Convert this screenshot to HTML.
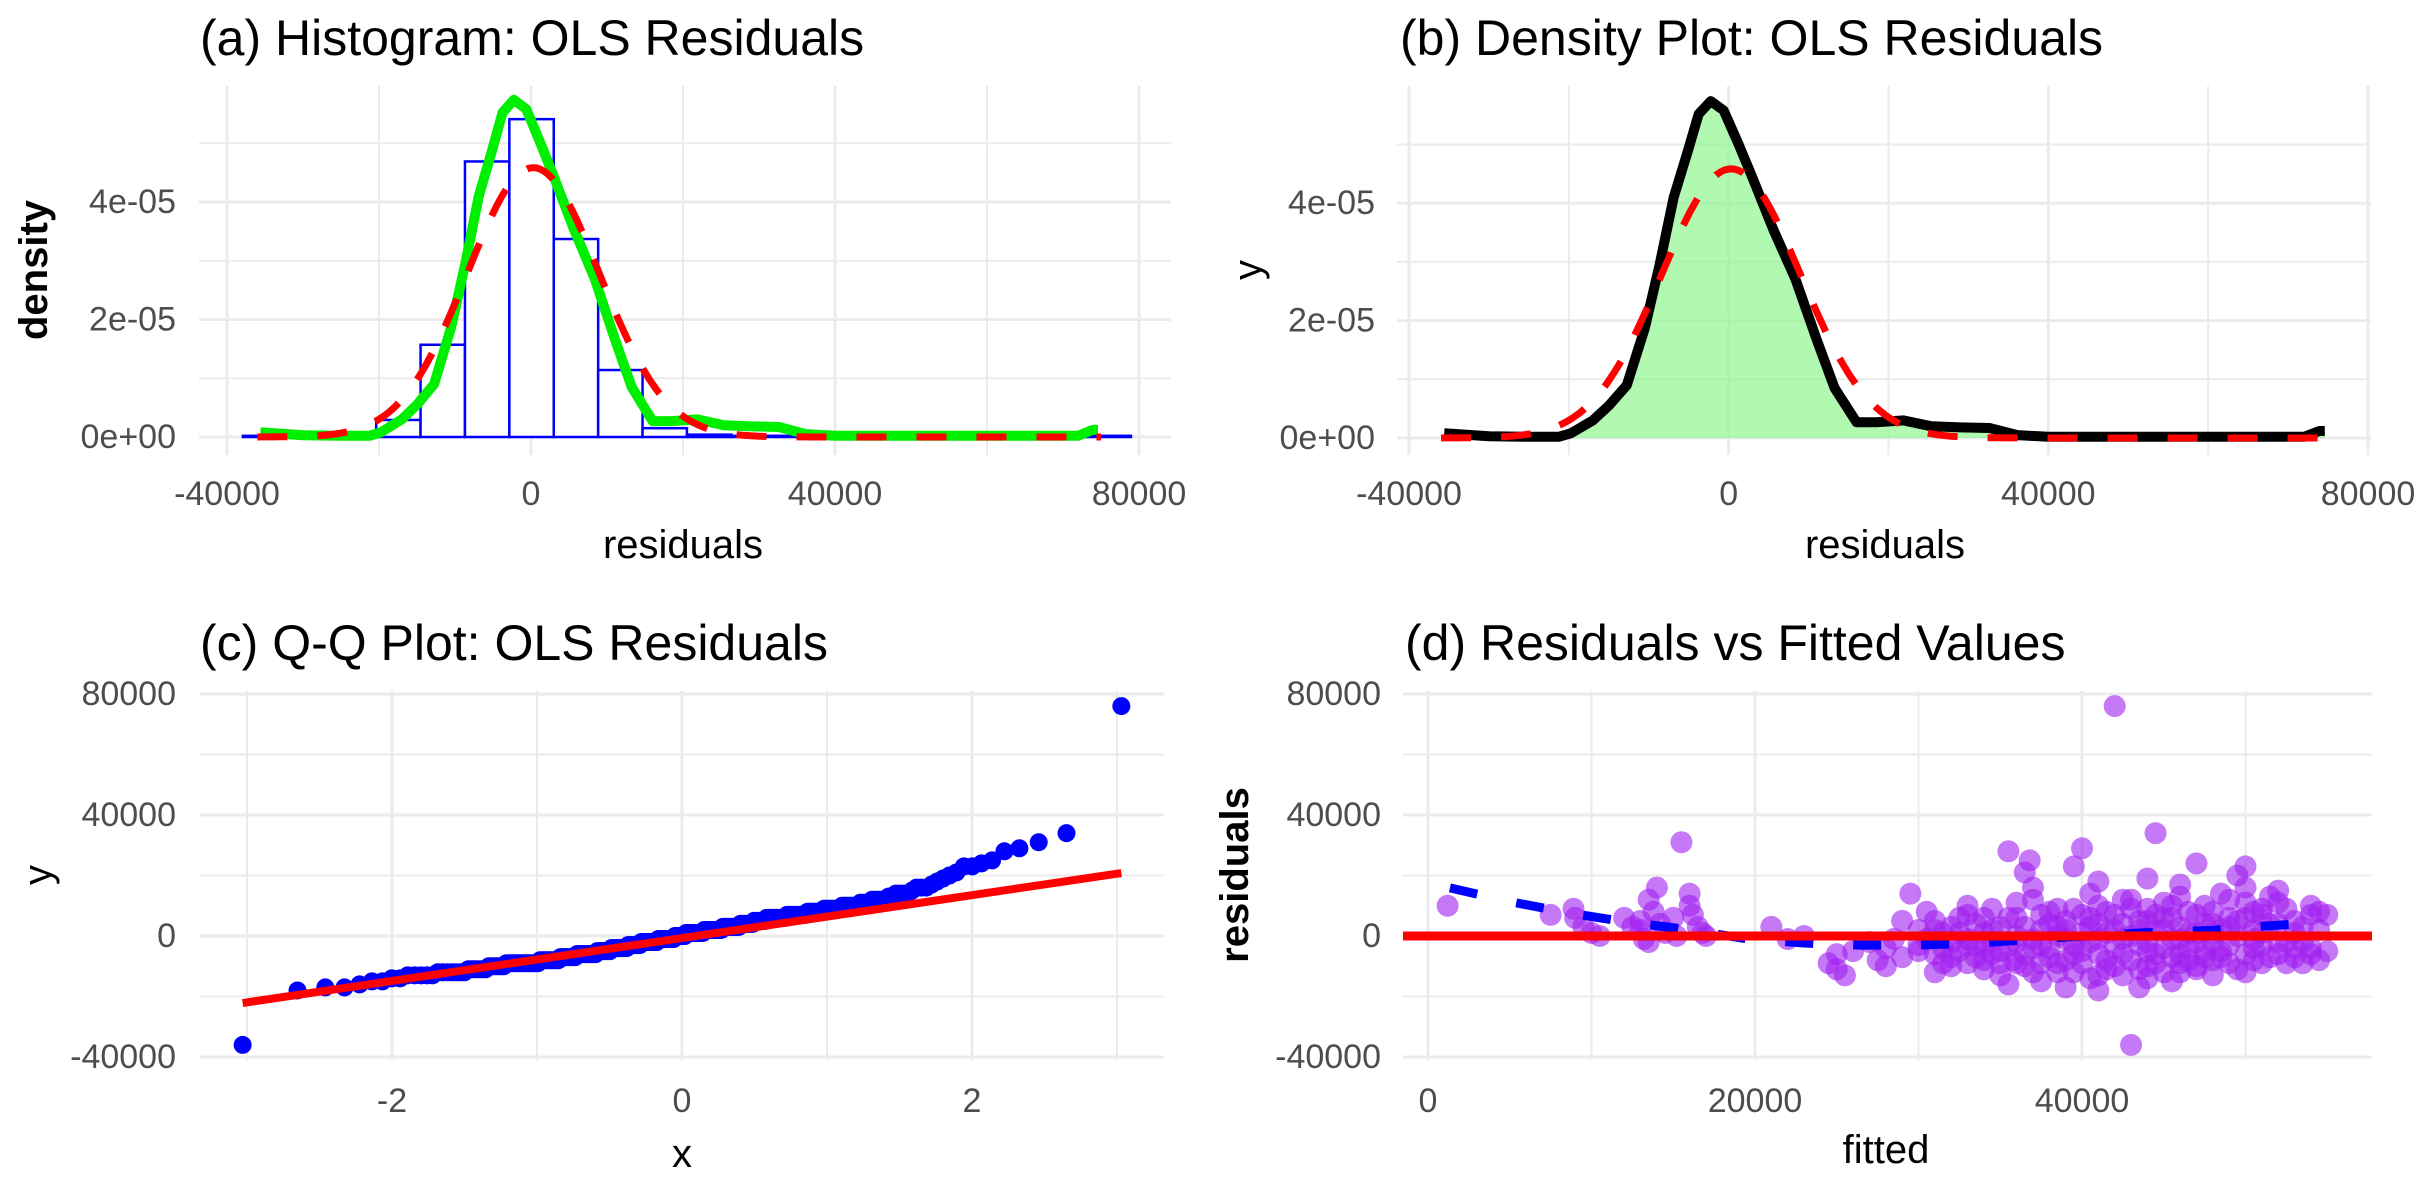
<!DOCTYPE html>
<html><head><meta charset="utf-8">
<style>
html,body{margin:0;padding:0;background:#fff;}
svg{display:block;font-family:"Liberation Sans",Arial,sans-serif;}
.tick{font-size:34px;fill:#4d4d4d;}
.ttl{font-size:50px;fill:#000;}
.axt{font-size:40px;fill:#000;}
</style></head>
<body>
<svg id="chart" width="2425" height="1181" viewBox="0 0 2425 1181" xmlns="http://www.w3.org/2000/svg">
<rect width="2425" height="1181" fill="#fff"/>
<g id="pa"></g>
<g id="pb"></g>
<g id="pc"></g>
<g id="pd"></g>
</svg>
<script>
// ---- data ----
const histBinStart = -37900;
const histBinWidth = 5842;
const histDensity = [0.02,0,0.02,0.29,1.57,4.69,5.41,3.37,1.14,0.15,0.04,0.02,0.02,0,0,0,0,0,0,0.02]; // x1e-5
const kdeX = [-35600,-30000,-25000,-21250,-19750,-17000,-15000,-12750,-10500,-8625,-6875,-5125,-3750,-2250,-625,1250,3000,5625,8375,11000,13250,16000,18500,21875,25375,29000,32625,36125,40000,45000,55000,65000,72000,73900,74600];
const kdeY = [0.08,0.03,0.02,0.02,0.08,0.3,0.55,0.9,1.87,2.96,4.1,4.88,5.52,5.74,5.58,5.0,4.43,3.54,2.7,1.68,0.85,0.27,0.27,0.3,0.2,0.18,0.17,0.05,0.02,0.02,0.02,0.02,0.02,0.12,0.12]; // x1e-5
const normMean = 300;
const normSd = 8700;
const normRange = [-36000, 75000];
const densTicks = [0,2,4];
const densTickLabels = ["0e+00","2e-05","4e-05"];
const resTicks = [-40000,0,40000,80000];
const resTickLabels = ["-40000","0","40000","80000"];
const qqTicks = [-2,0,2];
const qqTickLabels = ["-2","0","2"];
const qqLineIntercept = -675;
const qqLineSlope = 7090;
const fittedTicks = [0,20000,40000];
const fittedTickLabels = ["0","20000","40000"];
// fitted (thousands), residuals (thousands)
const fittedK = [1.2,7.5,8.9,9,9.5,10,10.5,12,12.5,13,13,13.2,13.5,13.8,14,14.2,14.5,15,15.2,15.5,16,16,16.2,16.5,16.8,17,13.5,
21,22,23,24.5,25,25.5,25,26,27,27.5,28,28,28.5,29,29.5,29,30,30.5,31,31,31.5,32,32,32.5,33,33,33.5,34,34,34.5,34.5,35,35,35.5,35.5,35.8,36,36,36.5,36.8,36.5,37,37,37.5,37.5,38,38,38.5,38.5,39,39,39.5,39.5,40,40,40.5,40.5,40.5,41,41,41,41.5,41.5,42,42,42,42.5,42.5,43,43,43,43.5,43.5,44,44,44,44.5,44.5,44.5,45,45,45.5,45.5,45.5,46,46,46,46.5,46.5,47,47,47,47.5,47.5,48,48,48,48.5,48.5,49,49,49.5,49.5,50,50,50,50.5,50.5,51,51,51.5,52,52,52.5,53,53,53.5,54,54,54.5,
37.5,38.5,39.5,40,41,42.5,43.5,44,45,46,47,48,49,50.5,51,52,39,36,34,33,31.5,30,
30.5,31,31.5,32,32.5,33,33.5,34,34.5,35,35.5,36,36.5,37,37.5,38,38.5,39,39.5,40,40.5,41,41.5,42,42.5,43,43.5,44,44.5,45,45.5,46,46.5,47,47.5,48,48.5,49,49.5,50,50.5,51,51.5,52,52.5,53,53.5,54,54.5,55,
31,32,33,34,35,36,37,38,39,40,41,42,43,44,45,46,47,48,49,50,51,52,53,54,55,
30,32.5,34.5,36.5,38.5,40.5,42.5,44.5,46.5,48.5,50.5,52.5,54.5,33.5,35.5,37.5,39.5,41.5,43.5,45.5,47.5,49.5,51.5,53.5,
37,41,46,50,44];
const residK = [10,7,9,6,3,1,0,6,3,5,2,-1,-2,8,16,4,1,6,0,31,14,10,7,3,1,0,12,
3,-1,0,-9,-11,-13,-6,-5,-2,-8,-10,-4,-1,5,14,-7,-3,8,-6,-12,-9,3,-2,-5,-9,7,-3,1,-11,9,-6,3,-13,-16,28,-8,6,-2,21,25,-10,-4,12,2,-15,-7,8,-12,0,-17,5,23,-3,29,-9,14,-14,3,-6,-18,10,1,-11,76,7,-4,-13,12,0,-8,-36,-17,5,-2,9,-10,34,2,-6,-12,11,-1,6,-15,-9,3,13,-4,8,-11,1,24,-7,10,4,-2,-13,14,-5,6,-9,0,20,-6,11,23,2,-8,7,-3,13,-6,4,9,-7,1,-9,7,-4,8,
-3,3,-6,1,-1,-1,2,-5,2,-1,-2,1,-3,-1,1,-2,-1,0,-4,-1,1,-5,
-1,2,-4,-7,1,-3,4,-8,2,-5,6,-9,3,-1,7,-4,-9,2,9,-5,-2,4,-8,2,-6,9,-3,5,-9,-4,10,-6,1,-10,4,8,-7,3,-11,6,-4,9,-7,11,-2,5,3,-6,-8,7,
5,-10,10,6,-9,11,-12,4,-8,7,-13,-10,12,-14,6,-12,7,-8,12,-12,-9,15,-4,10,-5,
2,6,-2,-6,9,6,4,7,-8,2,8,-9,2,-7,-3,-9,-12,8,-11,-7,-5,5,4,-2,
16,18,17,16,19];
const loessFitted = [1341,5150,8960,12070,15600,19450,23000,26300,29900,33700,37300,44700,48000,49900,53500];
const loessResid = [15900,11200,7300,4700,2300,-900,-2300,-3000,-3000,-2300,-900,1350,1850,2850,4100];

// ---- helpers ----
const NS = "http://www.w3.org/2000/svg";
function mk(parent, tag, attrs, text){
  const e = document.createElementNS(NS, tag);
  for (const k in attrs) e.setAttribute(k, attrs[k]);
  if (text !== undefined) e.textContent = text;
  parent.appendChild(e);
  return e;
}
function linear(d0,d1,r0,r1){ return v => r0 + (v-d0)/(d1-d0)*(r1-r0); }
const GRID = "#ebebeb";

function grid(g, left, right, top, bottom, xs, ys){
  xs.forEach(v=>{ const l=mk(g,"line",{x1:v.p,x2:v.p,y1:top,y2:bottom,stroke:GRID,"stroke-width":v.minor?2:3});
    
     });
  ys.forEach(v=>{ const l=mk(g,"line",{x1:left,x2:right,y1:v.p,y2:v.p,stroke:GRID,"stroke-width":v.minor?2:3});
    
     });
}
function title(g, x, y, txt){
  const t = mk(g,"text",{x:x,y:y,class:"ttl"},txt);
  
  
}
function xTicks(g, vals, labels, sx, y){
  vals.forEach((v,i)=>{ const t=mk(g,"text",{x:sx(v),y:y,class:"tick","text-anchor":"middle","dominant-baseline":"central"},labels[i]);
    
     });
}
function yTicks(g, vals, labels, sy, xr){
  vals.forEach((v,i)=>{ const t=mk(g,"text",{x:xr,y:sy(v),class:"tick","text-anchor":"end","dominant-baseline":"central"},labels[i]);
    
     });
}
function xTitle(g, x, y, txt){
  const t=mk(g,"text",{x:x,y:y,class:"axt","text-anchor":"middle","dominant-baseline":"central"},txt);
  
  
}
function yTitle(g, x, y, txt, bold){
  const t=mk(g,"text",{x:x,y:y,class:"axt","text-anchor":"middle","dominant-baseline":"central",transform:`rotate(-90 ${x} ${y})`,"font-weight":bold?"bold":"normal"},txt);
  
  
}
function normPdf(x){ return 1e5/(normSd*Math.sqrt(2*Math.PI))*Math.exp(-0.5*Math.pow((x-normMean)/normSd,2)); }
function normPts(sx, sy){
  const pts=[]; const n=200;
  for(let i=0;i<=n;i++){ const x=normRange[0]+(normRange[1]-normRange[0])*i/n; pts.push(sx(x).toFixed(1)+","+sy(normPdf(x)).toFixed(1)); }
  return pts.join(" ");
}
function kdePts(sx, sy){ return kdeX.map((x,i)=>sx(x).toFixed(1)+","+sy(kdeY[i]).toFixed(1)).join(" "); }

// ---- panel a ----
(function(){
  const g = document.getElementById("pa");
  const sx = linear(0,40000,531,835);
  const sy = linear(0,1,437,378.25);
  const xs=[-40000,-20000,0,20000,40000,60000,80000].map((v,i)=>({p:sx(v),minor:i%2===1}));
  const ys=[0,1,2,3,4,5].map(v=>({p:sy(v),minor:v%2===1}));
  grid(g,199,1171,86,455,xs,ys);
  histDensity.forEach((d,i)=>{
    const x0=sx(histBinStart+i*histBinWidth), x1=sx(histBinStart+(i+1)*histBinWidth);
    const r=mk(g,"rect",{x:x0,y:sy(d),width:x1-x0,height:Math.max(sy(0)-sy(d),0.01),fill:"#fff",stroke:"#0000ff","stroke-width":2.5});
    
    
  });
  const k=mk(g,"polyline",{points:kdePts(sx,sy),fill:"none",stroke:"#00ee00","stroke-width":10,"stroke-linejoin":"round"});
  
  
  const n=mk(g,"polyline",{points:normPts(sx,sy),fill:"none",stroke:"#ff0000","stroke-width":7,"stroke-dasharray":"30 30"});
  
  
  title(g,200,55,"(a) Histogram: OLS Residuals");
  xTicks(g,resTicks,resTickLabels,sx,494);
  yTicks(g,densTicks,densTickLabels,sy,176);
  xTitle(g,683,545,"residuals");
  yTitle(g,34,270,"density",true);
})();

// ---- panel b ----
(function(){
  const g = document.getElementById("pb");
  const sx = linear(-40000,80000,1409,2368);
  const sy = linear(0,1,438,379.3);
  const xs=[-40000,-20000,0,20000,40000,60000,80000].map((v,i)=>({p:sx(v),minor:i%2===1}));
  const ys=[0,1,2,3,4,5].map(v=>({p:sy(v),minor:v%2===1}));
  grid(g,1397,2371,86,455,xs,ys);
  const area = "M"+sx(kdeX[0])+","+sy(0)+" L"+kdePts(sx,sy).split(" ").join(" L")+" L"+sx(kdeX[kdeX.length-1])+","+sy(0)+" Z";
  const a=mk(g,"path",{d:area,fill:"#90f590","fill-opacity":0.7,stroke:"none"});
  
  
  const k=mk(g,"polyline",{points:kdePts(sx,sy),fill:"none",stroke:"#000","stroke-width":10,"stroke-linejoin":"round"});
  
  
  const n=mk(g,"polyline",{points:normPts(sx,sy),fill:"none",stroke:"#ff0000","stroke-width":7,"stroke-dasharray":"30 30"});
  
  
  title(g,1400,55,"(b) Density Plot: OLS Residuals");
  xTicks(g,resTicks,resTickLabels,sx,494);
  yTicks(g,densTicks,densTickLabels,sy,1375);
  xTitle(g,1885,545,"residuals");
  yTitle(g,1248,270,"y",false);
})();

// ---- panel c ----
(function(){
  const g = document.getElementById("pc");
  const sx = linear(0,1,682,827);
  const sy = linear(0,40000,936,815);
  const xs=[-3,-2,-1,0,1,2,3].map(v=>({p:sx(v),minor:v%2!==0}));
  const ys=[-40000,-20000,0,20000,40000,60000,80000].map((v,i)=>({p:sy(v),minor:i%2===1}));
  grid(g,200,1164,691,1060,xs,ys);
  const sorted = residK.map(v=>v*1000).sort((a,b)=>a-b);
  const n = sorted.length;
  function qnorm(p){ // Acklam approximation
    const a=[-39.6968302866538,220.946098424521,-275.928510446969,138.357751867269,-30.6647980661472,2.50662827745924];
    const b=[-54.4760987982241,161.585836858041,-155.698979859887,66.8013118877197,-13.2806815528857];
    const c=[-0.00778489400243029,-0.322396458041136,-2.40075827716184,-2.54973253934373,4.37466414146497,2.93816398269878];
    const d=[0.00778469570904146,0.32246712907004,2.445134137143,3.75440866190742];
    let q,r;
    if(p<0.02425){q=Math.sqrt(-2*Math.log(p));return (((((c[0]*q+c[1])*q+c[2])*q+c[3])*q+c[4])*q+c[5])/((((d[0]*q+d[1])*q+d[2])*q+d[3])*q+1);}
    if(p>1-0.02425){q=Math.sqrt(-2*Math.log(1-p));return -(((((c[0]*q+c[1])*q+c[2])*q+c[3])*q+c[4])*q+c[5])/((((d[0]*q+d[1])*q+d[2])*q+d[3])*q+1);}
    q=p-0.5;r=q*q;return (((((a[0]*r+a[1])*r+a[2])*r+a[3])*r+a[4])*r+a[5])*q/(((((b[0]*r+b[1])*r+b[2])*r+b[3])*r+b[4])*r+1);
  }
  sorted.forEach((v,i)=>{
    const t = qnorm((i+1-0.5)/n)*3.03/qnorm((n-0.5)/n);
    const c=mk(g,"circle",{cx:sx(t),cy:sy(v),r:9,fill:"#0000ff"});
    
    
  });
  const l=mk(g,"line",{x1:sx(-3.03),y1:sy(qqLineIntercept+qqLineSlope*-3.03),x2:sx(3.03),y2:sy(qqLineIntercept+qqLineSlope*3.03),stroke:"#ff0000","stroke-width":8});
  
  
  title(g,200,660,"(c) Q-Q Plot: OLS Residuals");
  xTicks(g,qqTicks,qqTickLabels,sx,1101);
  yTicks(g,resTicks,resTickLabels,sy,176);
  xTitle(g,682,1154,"x");
  yTitle(g,38,875,"y",false);
})();

// ---- panel d ----
(function(){
  const g = document.getElementById("pd");
  const sx = linear(0,20000,1428,1755);
  const sy = linear(0,40000,936,815);
  const xs=[0,10000,20000,30000,40000,50000].map((v,i)=>({p:sx(v),minor:i%2===1}));
  const ys=[-40000,-20000,0,20000,40000,60000,80000].map((v,i)=>({p:sy(v),minor:i%2===1}));
  grid(g,1403,2372,691,1060,xs,ys);
  fittedK.forEach((f,i)=>{
    const c=mk(g,"circle",{cx:sx(f*1000),cy:sy(residK[i]*1000),r:11,fill:"#a020f0","fill-opacity":0.6});
    
    
  });
  const lp = loessFitted.map((f,i)=>sx(f).toFixed(1)+","+sy(loessResid[i]).toFixed(1)).join(" ");
  const lo=mk(g,"polyline",{points:lp,fill:"none",stroke:"#0000ff","stroke-width":9,"stroke-dasharray":"28 40"});
  
  
  const h=mk(g,"line",{x1:1403,x2:2372,y1:sy(0),y2:sy(0),stroke:"#ff0000","stroke-width":9});
  
  
  title(g,1405,660,"(d) Residuals vs Fitted Values");
  xTicks(g,fittedTicks,fittedTickLabels,sx,1101);
  yTicks(g,resTicks,resTickLabels,sy,1381);
  xTitle(g,1886,1150,"fitted");
  yTitle(g,1235,875,"residuals",true);
})();
</script>
</body></html>
